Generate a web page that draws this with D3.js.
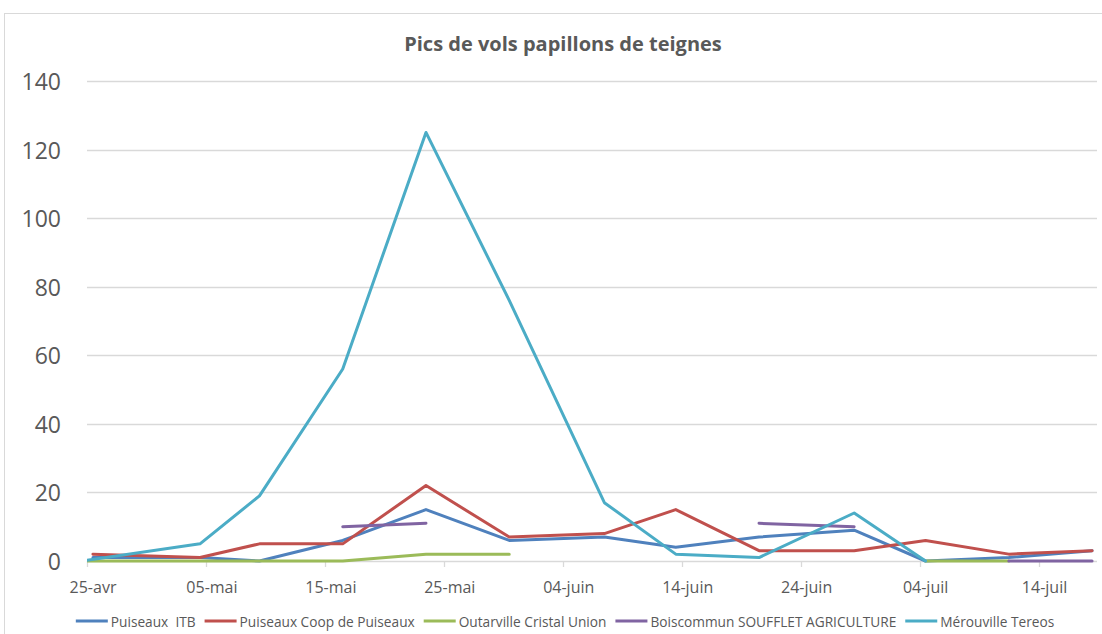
<!DOCTYPE html>
<html>
<head>
<meta charset="utf-8">
<script src="https://cdn.jsdelivr.net/npm/d3@7"></script>
<style>
  body { margin: 0; background: #fff; }
  svg { display: block; font-family: "Open Sans", sans-serif; }
  .legend text { white-space: pre; }
</style>
</head>
<body>
<div id="chart"></div>
<script>
// series and readings (one dates list per series, null = gap in the line)
const seriesNames = ["Puiseaux  ITB", "Puiseaux Coop de Puiseaux", "Outarville Cristal Union",
  "Boiscommun SOUFFLET AGRICULTURE", "Mérouville Tereos"];
const seriesColors = ["#4f81bd", "#c0504d", "#9bbb59", "#8064a2", "#4bacc6"];

const itbDates = ["2020-04-26", "2020-05-05", "2020-05-10", "2020-05-17", "2020-05-24", "2020-05-31",
  "2020-06-08", "2020-06-14", "2020-06-21", "2020-06-29", "2020-07-05", "2020-07-12", "2020-07-19"];
const itbValues = [1, 1, 0, 6, 15, 6, 7, 4, 7, 9, 0, 1, 3];

const coopDates = itbDates;
const coopValues = [2, 1, 5, 5, 22, 7, 8, 15, 3, 3, 6, 2, 3];

const outarvilleDates = ["2020-04-25", "2020-05-05", "2020-05-10", "2020-05-17", "2020-05-24",
  "2020-05-31", "2020-06-08", "2020-07-05", "2020-07-12"];
const outarvilleValues = [0, 0, 0, 0, 2, 2, null, 0, 0];

const boiscommunDates = ["2020-05-17", "2020-05-24", "2020-05-31", "2020-06-21", "2020-06-29",
  "2020-07-05", "2020-07-12", "2020-07-19"];
const boiscommunValues = [10, 11, null, 11, 10, null, 0, 0];

const merouvilleDates = ["2020-04-25", "2020-05-05", "2020-05-10", "2020-05-17", "2020-05-24",
  "2020-05-31", "2020-06-08", "2020-06-14", "2020-06-21", "2020-06-29", "2020-07-05"];
const merouvilleValues = [0, 5, 19, 56, 125, 76, 17, 2, 1, 14, 0];

const yTicks = [0, 20, 40, 60, 80, 100, 120, 140];
const chartTitle = "Pics de vols papillons de teignes";

// layout
const W = 1102, H = 634;
const plot = { left: 87, right: 1098, top: 81, bottom: 561 };

const parse = d3.utcParse("%Y-%m-%d");
const fr = d3.timeFormatLocale({
  dateTime: "%A %e %B %Y à %X", date: "%d/%m/%Y", time: "%H:%M:%S", periods: ["AM", "PM"],
  days: ["dimanche", "lundi", "mardi", "mercredi", "jeudi", "vendredi", "samedi"],
  shortDays: ["dim.", "lun.", "mar.", "mer.", "jeu.", "ven.", "sam."],
  months: ["janvier", "février", "mars", "avril", "mai", "juin", "juillet", "août", "septembre", "octobre", "novembre", "décembre"],
  shortMonths: ["janv", "févr", "mars", "avr", "mai", "juin", "juil", "août", "sept", "oct", "nov", "déc"]
});
const fmt = fr.utcFormat("%d-%b");

// axis starts at noon, like the spreadsheet's axis minimum
const xStart = d3.utcHour.offset(parse("2020-04-25"), 12);
const xEnd = d3.utcDay.offset(xStart, 85);
const xTicks = d3.range(9).map(k => d3.utcDay.offset(xStart, 10 * k));

const x = d3.scaleUtc().domain([xStart, xEnd]).range([plot.left, plot.right]);
const y = d3.scaleLinear().domain([0, 140]).range([plot.bottom, plot.top]);

const series = [
  [itbDates, itbValues], [coopDates, coopValues], [outarvilleDates, outarvilleValues],
  [boiscommunDates, boiscommunValues], [merouvilleDates, merouvilleValues]
].map(([ds, vs], i) => ({
  name: seriesNames[i],
  color: seriesColors[i],
  points: ds.map((d, j) => ({ date: parse(d), value: vs[j] }))
}));

const svg = d3.select("#chart").append("svg")
  .attr("width", W).attr("height", H);

// chart frame
svg.append("rect")
  .attr("x", 4.5).attr("y", 13.5)
  .attr("width", W + 20).attr("height", H + 20)
  .attr("fill", "none").attr("stroke", "#d9d9d9");

// title
svg.append("text")
  .attr("x", 563).attr("y", 43)
  .attr("text-anchor", "middle").attr("dominant-baseline", "central")
  .style("font-size", "20px").style("font-weight", 700)
  .attr("fill", "#595959")
  .text(chartTitle);

// gridlines
svg.append("g")
  .selectAll("line")
  .data(yTicks)
  .join("line")
    .attr("x1", plot.left).attr("x2", plot.right - 1)
    .attr("y1", d => Math.round(y(d)) + 0.5).attr("y2", d => Math.round(y(d)) + 0.5)
    .attr("stroke", "#d9d9d9").attr("stroke-width", 1.3);

// y labels
svg.append("g")
  .selectAll("text")
  .data(yTicks)
  .join("text")
    .attr("x", 61).attr("y", d => y(d))
    .attr("text-anchor", "end").attr("dominant-baseline", "central")
    .style("font-size", "23px").attr("fill", "#595959")
    .text(d => d);

// x tick marks and labels
const xAxis = svg.append("g");
xAxis.selectAll("line")
  .data(xTicks)
  .join("line")
    .attr("x1", d => Math.round(x(d)) + 0.5).attr("x2", d => Math.round(x(d)) + 0.5)
    .attr("y1", plot.bottom).attr("y2", plot.bottom + 6)
    .attr("stroke", "#d9d9d9").attr("stroke-width", 1.3);
xAxis.selectAll("text")
  .data(xTicks)
  .join("text")
    .attr("x", d => x(d) + 6).attr("y", 587)
    .attr("text-anchor", "middle").attr("dominant-baseline", "central")
    .style("font-size", "16px").attr("fill", "#595959")
    .text(d => fmt(d));

// lines, clipped to the plot area
svg.append("clipPath").attr("id", "plotClip")
  .append("rect")
    .attr("x", plot.left).attr("y", 0)
    .attr("width", plot.right - plot.left).attr("height", H);

const line = d3.line()
  .defined(d => d.value != null)
  .x(d => x(d.date))
  .y(d => y(d.value));

svg.append("g")
  .attr("clip-path", "url(#plotClip)")
  .selectAll("path")
  .data(series)
  .join("path")
    .attr("d", d => line(d.points))
    .attr("fill", "none")
    .attr("stroke", d => d.color)
    .attr("stroke-width", 3)
    .attr("stroke-linejoin", "round")
    .attr("stroke-linecap", "round");

// legend
const legend = svg.append("g").attr("class", "legend");
const items = legend.selectAll("g")
  .data(series)
  .join("g");
items.append("line")
  .attr("x1", 0).attr("x2", 32)
  .attr("y1", 0).attr("y2", 0)
  .attr("stroke", d => d.color).attr("stroke-width", 3);
items.append("text")
  .attr("x", 35).attr("y", 0)
  .attr("dominant-baseline", "central")
  .style("font-size", "13.7px").attr("fill", "#595959")
  .text(d => d.name);

let offset = 0;
items.each(function () {
  const w = 35 + this.querySelector("text").getComputedTextLength();
  d3.select(this).attr("transform", "translate(" + offset + ",0)");
  offset += w + 9;
});
const legendWidth = offset - 9;
legend.attr("transform", "translate(" + (565 - legendWidth / 2) + ",621)");
</script>
</body>
</html>
